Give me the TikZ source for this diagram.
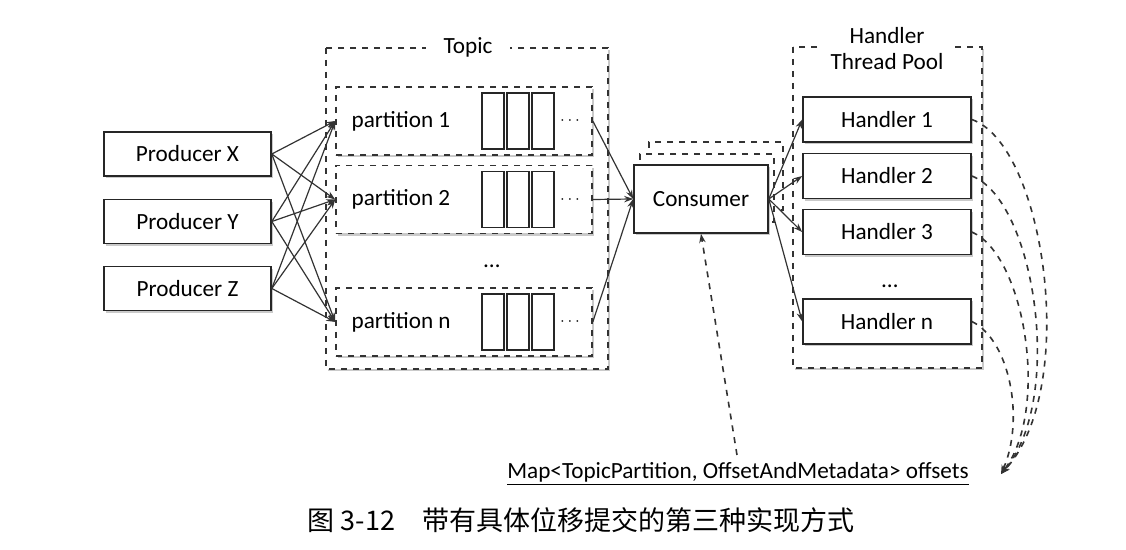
\documentclass[tikz,border=0pt]{standalone}
\usepackage{fontspec}
\setmainfont{Carlito}
\newfontfamily\cjk{Noto Sans CJK SC}
\usetikzlibrary{arrows,arrows.meta,positioning,shadows}

\tikzset{
  boxshadow/.style={drop shadow={shadow xshift=1.2pt, shadow yshift=-1.2pt, opacity=0.35, fill=black!60}},
  procbox/.style={draw=black!85, fill=white, thick, minimum width=83.5pt, minimum height=22pt, inner sep=0pt, boxshadow},
  partbox/.style={draw=black!80, fill=white, thick, dashed, minimum width=128pt, minimum height=34pt, inner sep=0pt, boxshadow},
  groupbox/.style={draw=black!80, thick, dashed, boxshadow},
  cellbox/.style={draw=black!85, semithick, minimum width=11pt, minimum height=28pt, inner sep=0pt},
  link/.style={->, draw=black!80, semithick},
  commit/.style={->, draw=black!80, thick, dashed}
}

\begin{document}
\begin{tikzpicture}[x=0.5pt, y=-0.5pt, >={Stealth[length=4.5pt,width=3.2pt]}, font=\fontsize{11.6}{13}\selectfont]
    \useasboundingbox (0,0) rectangle (1126,550);
    % Groups
    \draw[groupbox, fill=white] (326,48) rectangle (608,369);
    \draw[groupbox, fill=white] (793,47) rectangle (982,368);
    \node[fill=white, inner xsep=9pt, inner ysep=2pt] (topic) at (468,47) {Topic};
    \node[fill=white, inner xsep=6pt, inner ysep=1pt, align=center] (pool) at (887,49) {Handler\\Thread Pool};

    % Producers
    \node[procbox] (px) at (187.5,154) {Producer X};
    \node[procbox] (py) at (187.5,221.5) {Producer Y};
    \node[procbox] (pz) at (187.5,288.5) {Producer Z};

    % Partitions
    \foreach \nm/\yy/\lb in {p1/121/1, p2/199.5/2, pn/322/n}{
      \node[partbox] (\nm) at (464,\yy) {};
      \node[anchor=west, inner sep=0pt] (\nm txt) at ([xshift=8pt]\nm.west) {partition \lb};
      \foreach \dx[count=\k] in {29,54,79}
        \node[cellbox] (\nm c\k) at ([xshift=\dx*0.5pt]\nm.center) {};
      \node[font=\footnotesize] (\nm dots) at ([xshift=53pt]\nm.center) {$\cdots$};
    }
    \node (tdots) at (492,266) {\dots};

    % Consumer (stacked)
    \node[draw=black!80, thick, dashed, fill=white, minimum width=67pt, minimum height=34pt] (cb2) at (716,176) {};
    \node[draw=black!80, thick, dashed, fill=white, minimum width=67pt, minimum height=34pt] (cb1) at (707,188) {};
    \node[procbox, minimum width=67pt, minimum height=34pt] (cons) at (701,199) {Consumer};

    % Handlers
    \foreach \nm/\yy/\lb in {h1/119.5/1, h2/176/2, h3/232/3, hn/321.5/n}
      \node[procbox, minimum width=84pt, minimum height=22.5pt] (\nm) at (887,\yy) {Handler \lb};
    \node (hdots) at (890,286) {\dots};

    % Offsets map
    \node (map) at (738,474) {\underline{Map<TopicPartition, OffsetAndMetadata> offsets}};
    \coordinate (mapup) at (737,455);
    \coordinate (mapend) at (1001,474);

    % Arrows
    \foreach \a in {px,py,pz}
      \foreach \b in {p1,p2,pn}
        \draw[link] (\a.east) -- (\b.west);
    \foreach \b in {p1,p2,pn}
      \draw[link] (\b.east) -- (cons.west);
    \foreach \h in {h1,h2,h3,hn}
      \draw[link] (cons.east) -- (\h.west);

    % Commit
    \draw[commit] (mapup) -- (cons.south);
    \draw[commit] (h1.east) .. controls (1045,145) and (1080,390) .. (mapend);
    \draw[commit] (h2.east) .. controls (1035,200) and (1065,400) .. (mapend);
    \draw[commit] (h3.east) .. controls (1025,255) and (1050,410) .. (mapend);
    \draw[commit] (hn.east) .. controls (1010,340) and (1025,420) .. (mapend);

    % Caption
    \node (cap) at (581,520) {\cjk\fontsize{13.5}{15}\selectfont 图 3-12\quad 带有具体位移提交的第三种实现方式};
\end{tikzpicture}
\end{document}
